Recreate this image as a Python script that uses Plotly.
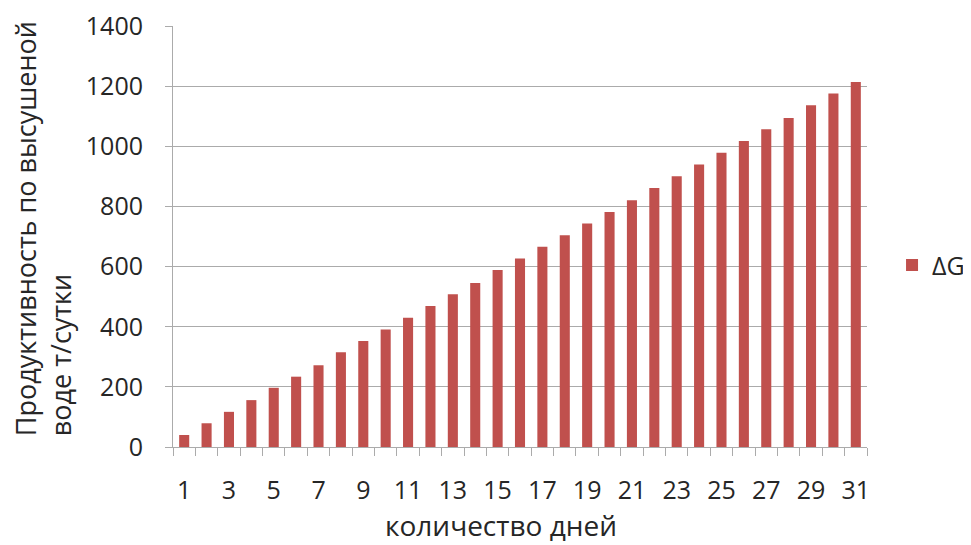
import plotly.graph_objects as go

days = list(range(1, 32))
delta_g = [40, 79, 117, 156, 197, 234, 272, 315, 353, 391, 430, 469, 508, 546, 589,
           627, 666, 705, 744, 782, 821, 862, 901, 940, 979, 1018, 1057, 1095, 1137, 1176, 1215]
x_tick_vals = list(range(1, 32, 2))
y_tick_vals = list(range(0, 1401, 200))
series_name = "ΔG"
y_title = "Продуктивность по высушеной<br>воде т/сутки"
x_title = "количество дней"

FONT = "Open Sans, Liberation Sans, sans-serif"
GRID = "#ABABAB"
TXT = "#262626"
FS = 25

fig = go.Figure()
fig.add_trace(go.Bar(x=days, y=delta_g, name=series_name, marker_color="#C0504D",
                     marker_line_width=0, showlegend=True))

fig.update_layout(
    width=963, height=537,
    margin=dict(l=165, r=104, t=18, b=98, autoexpand=False),
    paper_bgcolor="white", plot_bgcolor="white",
    bargap=0.55,
    font=dict(family=FONT, size=FS, color=TXT),
    legend=dict(xref="container", yref="container", x=0.918, y=0.521,
                xanchor="left", yanchor="middle",
                font=dict(size=FS, color=TXT), itemsizing="constant"),
    xaxis=dict(range=[0.5, 31.5], tickmode="array", tickvals=x_tick_vals,
               ticks="", ticklabelstandoff=21, showgrid=False, automargin=False,
               showline=True, linecolor=GRID, linewidth=1, zeroline=False,
               tickfont=dict(size=FS, color=TXT),
               minor=dict(tickmode="array", tickvals=[i + 0.5 for i in range(0, 32)],
                          ticks="outside", ticklen=8, tickcolor=GRID, showgrid=False)),
    yaxis=dict(range=[0, 1401], tickmode="array", tickvals=y_tick_vals,
               ticks="outside", ticklen=7, tickcolor=GRID, ticklabelstandoff=17,
               showgrid=True, gridcolor=GRID, gridwidth=1, automargin=False,
               showline=True, linecolor=GRID, linewidth=1, zeroline=False,
               tickfont=dict(size=FS, color=TXT)),
)

fig.add_annotation(text=y_title, textangle=-90, align="left",
                   xref="paper", yref="paper", x=-0.187, y=0.518,
                   xanchor="center", yanchor="middle", showarrow=False,
                   font=dict(size=27, color=TXT, family=FONT))
fig.add_annotation(text=x_title, xref="paper", yref="paper", x=0.472, y=-0.185,
                   xanchor="center", yanchor="middle", showarrow=False,
                   font=dict(size=28, color=TXT, family=FONT))

fig.write_html("out.html")
